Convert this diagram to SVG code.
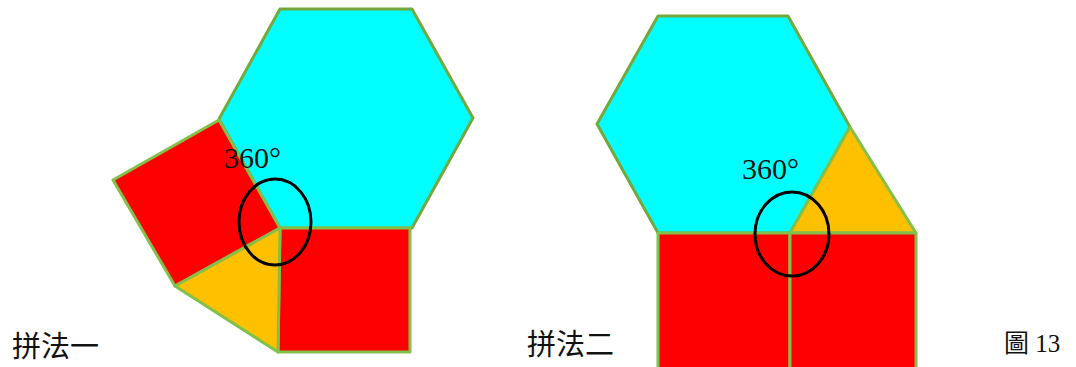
<svg xmlns="http://www.w3.org/2000/svg" width="1076" height="367" viewBox="0 0 1076 367">
<style>
.hex{fill:#00FFFF;stroke:#74A83C;stroke-width:3;stroke-linejoin:round}
.sq{fill:#FF0000;stroke:#82C04A;stroke-width:3;stroke-linejoin:round}
.tri{fill:#FFC000;stroke:#82C04A;stroke-width:3;stroke-linejoin:round}
.ring{fill:none;stroke:#000;stroke-width:3}
.deg{font-family:"Liberation Serif",serif;font-size:30px;fill:#111}
.lab{font-family:"Noto Sans CJK TC","Noto Sans CJK SC",sans-serif;font-size:29px;fill:#111}
.cap{font-family:"Liberation Serif","Noto Sans CJK TC",serif;font-size:25px;fill:#111}
</style>
<rect width="1076" height="367" fill="#fff"/>
<g id="fig1">
  <g id="hex1"><polygon class="hex" points="280,9 412,9 473,118 412,228 280,228 219,119"/></g>
  <g id="sq1a"><polygon class="sq" points="219,120 280,228 175,286 113,180"/></g>
  <g id="sq1b"><polygon class="sq" points="280,228 410,228 410,352 278,352"/></g>
  <g id="tri1"><polygon class="tri" points="280,228 175,286 278,352"/></g>
  <g id="ring1"><ellipse class="ring" cx="275" cy="222" rx="36" ry="43"/></g>
  <text class="deg" x="224" y="168">360°</text>
  <text class="lab" x="12" y="357">拼法一</text>
</g>
<g id="fig2">
  <g id="hex2"><polygon class="hex" points="658,16 788,16 850,127 790,233 658,233 597,124"/></g>
  <g id="tri2"><polygon class="tri" points="850,127 790,233 916,233"/></g>
  <g id="sq2a"><polygon class="sq" points="658,233 790,233 790,369 658,369"/></g>
  <g id="sq2b"><polygon class="sq" points="790,233 916,233 916,369 790,369"/></g>
  <g id="ring2"><ellipse class="ring" cx="792" cy="234" rx="37" ry="42"/></g>
  <text class="deg" x="742" y="179">360°</text>
  <text class="lab" x="527" y="355">拼法二</text>
</g>
<text class="cap" x="1004" y="352">圖 13</text>
</svg>
